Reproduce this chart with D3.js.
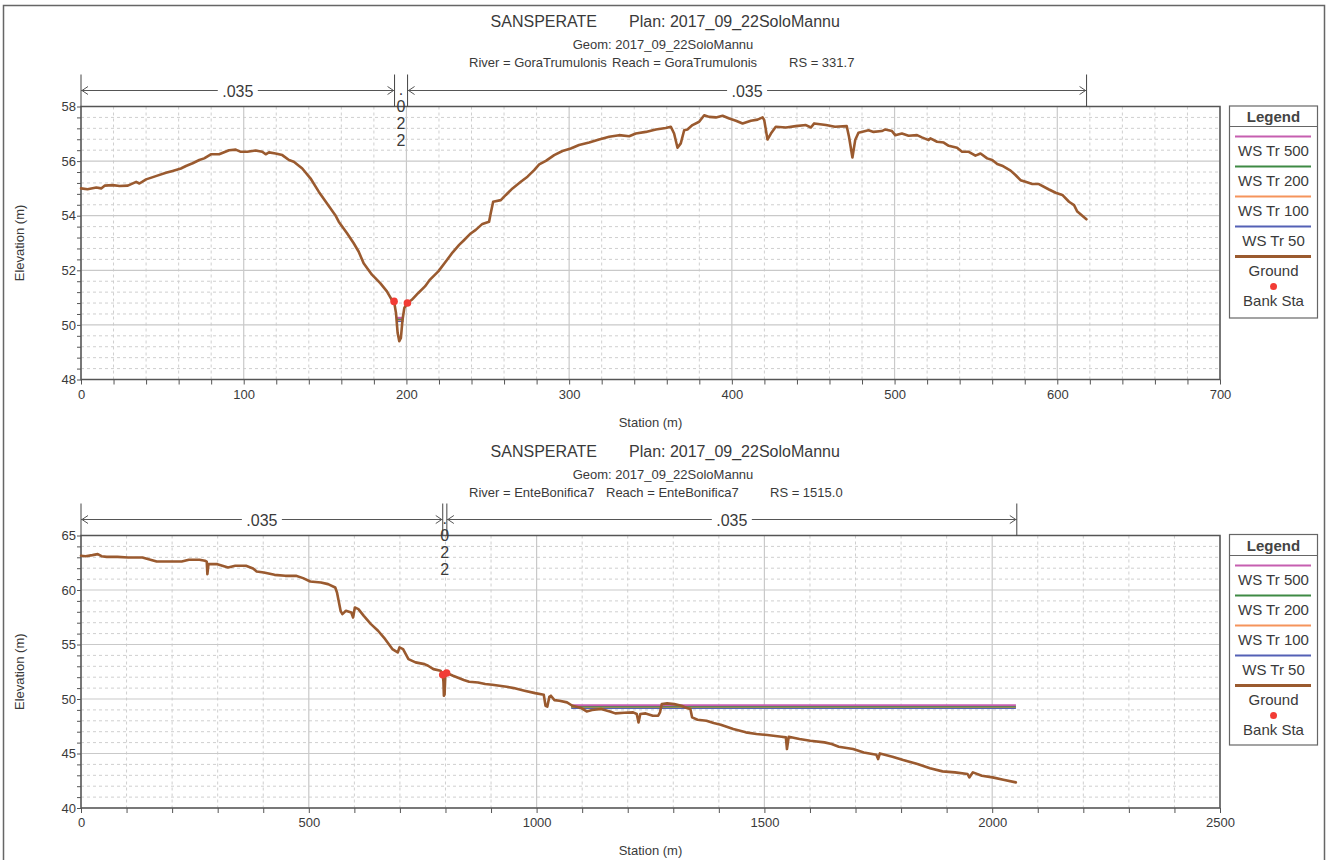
<!DOCTYPE html>
<html><head><meta charset="utf-8">
<script src="https://cdn.jsdelivr.net/npm/d3@7"></script>
<style>
html,body{margin:0;padding:0;background:#fff;}
svg{display:block;font-family:"Liberation Sans",Arial,sans-serif;}
</style></head>
<body><svg id="c" width="1330" height="860"></svg>
<script>
// ---------------- DATA ----------------
const projectName = "SANSPERATE";
const planName = "Plan: 2017_09_22SoloMannu";
const geomName = "Geom: 2017_09_22SoloMannu";

// Panel 1 : GoraTrumulonis RS 331.7
const topRiverText = ["River = GoraTrumulonis", "Reach = GoraTrumulonis", "RS = 331.7"];
const topStation = [0,4,9.4,12.4,14.5,19.6,23.7,28.8,33.9,35.9,40,46,52.2,56.3,61.4,64.5,68.6,72.7,75.7,79.8,84.9,91,95.1,98.2,102.2,107.3,111.4,113.5,115.5,119.6,123.7,127.8,130.8,136,141,146.1,151.2,156.3,158.4,163.5,167.6,170.6,173.7,178.8,183.9,188,191,192.4,193.6,194.6,195.6,196.6,197.6,198.7,200.6,203.3,207.3,211.4,214.5,219.6,224.2,228.3,232.4,235.5,239.5,242.6,246.7,250.8,251.8,253.3,258,261.1,265.2,270.3,274.4,278.5,281.6,285.7,290.8,295.9,301,306.1,312.3,318.4,324.6,330.7,336.9,341,347.1,353.3,359.4,362.5,364.5,366.6,368.6,370.7,372.7,375.8,379.9,383,386.1,390.2,394.3,398.4,402.5,406.6,411.7,415.8,418.9,419.9,421.9,424,427,433.2,439.3,445.5,448.6,450.6,457.8,463.4,470.6,472,474.1,475.8,477.8,484,487.1,492.2,494.3,498.4,500.4,504.5,508.6,513.8,516.8,520.9,522,526.1,530.2,533.3,538.4,541.5,545.6,549.7,552.8,556.9,560,563.1,566.1,571.3,574.3,577.4,580.5,584.6,588.7,594.9,599,603.1,607.2,610.3,612.3,617.9];
const topElev = [55.0,54.97,55.03,55.0,55.1,55.12,55.09,55.1,55.24,55.18,55.33,55.45,55.57,55.64,55.73,55.82,55.92,56.04,56.1,56.25,56.25,56.4,56.42,56.34,56.34,56.39,56.34,56.25,56.32,56.28,56.22,56.04,55.98,55.73,55.37,54.88,54.45,54.02,53.78,53.36,52.99,52.69,52.26,51.84,51.53,51.23,50.92,50.86,50.43,49.7,49.4,49.52,50.19,50.62,50.8,50.92,51.17,51.41,51.66,51.96,52.32,52.65,52.93,53.11,53.35,53.48,53.7,53.78,54.09,54.51,54.57,54.76,55.0,55.24,55.43,55.67,55.88,56.01,56.22,56.37,56.46,56.59,56.68,56.79,56.89,56.95,56.91,57.01,57.07,57.16,57.21,57.26,57.01,56.49,56.65,57.13,57.16,57.32,57.44,57.68,57.62,57.6,57.66,57.56,57.48,57.38,57.48,57.52,57.6,57.5,56.79,57.01,57.26,57.23,57.28,57.32,57.23,57.38,57.32,57.26,57.28,56.89,56.13,56.77,57.04,57.13,57.07,57.1,57.16,57.1,56.95,57.01,56.93,56.95,56.87,56.77,56.83,56.71,56.68,56.56,56.49,56.34,56.34,56.2,56.28,56.1,56.04,55.89,55.83,55.65,55.49,55.3,55.24,55.16,55.16,54.96,54.84,54.76,54.51,54.39,54.15,53.87];
const topBankStation = [192.4, 200.6];
const topBankElev = [50.86, 50.8];
const topWSStation = [194.1, 198.2];
const topWS500 = 50.26, topWS200 = 50.22, topWS100 = 50.19, topWS50 = 50.14;
const topNStations = [0, 192.7, 200.7, 618];
const topNValues = [".035", ".022", ".035"];

// Panel 2 : EnteBonifica7 RS 1515.0
const botRiverText = ["River = EnteBonifica7", "Reach = EnteBonifica7", "RS = 1515.0"];
const botStation = [0,10,25,36.8,45,56.4,80,103.4,134.8,142.6,166.1,189.7,221,236.7,260.2,272,276,277.4,279.8,299.4,322.9,338.6,362.1,377.7,385.6,401.3,424.8,448.3,471.8,487.5,503.1,526.6,542.3,558,561.9,569.8,573.7,581.5,593.3,597.2,601.1,608.9,620.7,636.4,652,667.7,683.4,695.1,699.1,706.9,718.7,734.3,753.9,761.8,773.5,789.2,794,795.5,796.5,798,799.5,802.5,816.6,840.1,852,871.5,887.2,902.8,918.5,934.2,949.8,973.4,996.9,1015.7,1019.6,1023.5,1028,1031.4,1039.2,1050,1066.7,1078.5,1098.1,1109.9,1121.7,1141.3,1160.9,1172.7,1192.3,1211.9,1219.8,1223.7,1227.6,1239.4,1255.1,1266.9,1270.8,1274.8,1286.5,1302.2,1317.9,1329.7,1337.5,1341.4,1353.2,1372.8,1388.5,1404.2,1431.7,1459.2,1482.7,1506.3,1537.7,1547.1,1549.5,1553.4,1577,1600.5,1631.9,1647.6,1663.3,1694.7,1718.2,1745.7,1749.6,1753.5,1781,1804.6,1836,1863.5,1890.9,1918.4,1945.9,1949.8,1957.7,1977.3,2000.8,2024.4,2051.9];
const botElev = [63.14,63.1,63.2,63.29,63.1,63.04,63.04,62.98,62.98,62.89,62.62,62.62,62.62,62.77,62.77,62.68,62.6,61.45,62.37,62.37,62.07,62.22,62.22,61.97,61.7,61.61,61.39,61.3,61.3,61.09,60.78,60.69,60.54,60.23,59.77,58.09,57.79,58.09,57.94,57.48,58.4,58.25,57.63,56.87,56.26,55.49,54.58,54.27,54.73,54.58,53.66,53.36,53.2,53.05,52.74,52.59,52.25,51.6,50.3,50.4,52.0,52.4,52.13,51.74,51.58,51.52,51.37,51.31,51.22,51.12,51.0,50.76,50.54,50.39,49.38,49.3,50.2,50.3,49.9,49.84,49.69,49.38,49.17,48.86,48.99,49.08,48.86,48.68,48.74,48.77,48.62,47.85,48.62,48.68,48.47,48.47,48.77,49.53,49.6,49.53,49.38,49.17,49.08,48.31,48.1,48.0,47.79,47.64,47.24,46.94,46.79,46.69,46.54,46.48,45.41,46.54,46.33,46.17,46.02,45.87,45.62,45.41,45.1,44.89,44.49,45.01,44.71,44.4,44.03,43.64,43.36,43.27,43.12,42.81,43.27,42.96,42.81,42.6,42.35];
const botBankStation = [794, 802.5];
const botBankElev = [52.22, 52.38];
const botWSStation = [1076, 2052];
const botWS500 = 49.42, botWS200 = 49.32, botWS100 = 49.27, botWS50 = 49.17;
const botNStations = [0, 794, 803, 2054];
const botNValues = [".035", ".022", ".035"];

const legendLabels = ["WS Tr 500", "WS Tr 200", "WS Tr 100", "WS Tr 50", "Ground", "Bank Sta"];
const seriesColors = {"WS Tr 500":"#c65fb0","WS Tr 200":"#3f8a45","WS Tr 100":"#f5945c","WS Tr 50":"#5461b5","Ground":"#9a5a2f","Bank Sta":"#f23c35"};

// ---------------- DRAW ----------------
const svg = d3.select("#c");
svg.append("rect").attr("x",0).attr("y",0).attr("width",1330).attr("height",860).attr("fill","#fff");
svg.append("path").attr("d","M3.5,870 V5.5 H1324.5 V870").attr("fill","none").attr("stroke","#666").attr("stroke-width",1.5);

const TXT = "#3a3a3a";

function panel(cfg){
  const g = svg.append("g");
  const x = d3.scaleLinear().domain(cfg.xDomain).range([cfg.x0, cfg.x1]);
  const y = d3.scaleLinear().domain(cfg.yDomain).range([cfg.yBot, cfg.yTop]);

  // titles
  g.append("text").attr("x",597).attr("y",cfg.titleY).attr("text-anchor","end")
    .attr("font-size",16).attr("fill",TXT).text(projectName);
  g.append("text").attr("x",629).attr("y",cfg.titleY).attr("text-anchor","start")
    .attr("font-size",16).attr("fill",TXT).text(planName);
  g.append("text").attr("x",663).attr("y",cfg.titleY+22).attr("text-anchor","middle")
    .attr("font-size",13).attr("fill",TXT).text(geomName);
  cfg.riverText.forEach((t,i)=>{
    g.append("text").attr("x",cfg.riverX[i]).attr("y",cfg.titleY+40)
      .attr("font-size",13).attr("fill",TXT).text(t);
  });

  // grid
  const xMinorVals = d3.range(cfg.xDomain[0], cfg.xDomain[1]+1e-9, cfg.xMinor);
  const yMinorVals = d3.range(cfg.yDomain[0], cfg.yDomain[1]+1e-9, cfg.yMinor).map(v=>+v.toFixed(3));
  const isMajX = v => Math.abs(v/cfg.xMajor - Math.round(v/cfg.xMajor))<1e-6;
  const isMajY = v => Math.abs(v/cfg.yMajor - Math.round(v/cfg.yMajor))<1e-6;
  g.append("g").selectAll("line").data(xMinorVals.filter(v=>!isMajX(v))).join("line")
    .attr("x1",d=>x(d)).attr("x2",d=>x(d)).attr("y1",cfg.yTop).attr("y2",cfg.yBot)
    .attr("stroke","#cfcfcf").attr("stroke-dasharray","3,3").attr("stroke-width",1);
  g.append("g").selectAll("line").data(yMinorVals.filter(v=>!isMajY(v))).join("line")
    .attr("x1",cfg.x0).attr("x2",cfg.x1).attr("y1",d=>y(d)).attr("y2",d=>y(d))
    .attr("stroke","#cfcfcf").attr("stroke-dasharray","3,3").attr("stroke-width",1);
  g.append("g").selectAll("line").data(xMinorVals.filter(isMajX)).join("line")
    .attr("x1",d=>x(d)).attr("x2",d=>x(d)).attr("y1",cfg.yTop).attr("y2",cfg.yBot)
    .attr("stroke","#c9c9c9").attr("stroke-width",1.2);
  g.append("g").selectAll("line").data(yMinorVals.filter(isMajY)).join("line")
    .attr("x1",cfg.x0).attr("x2",cfg.x1).attr("y1",d=>y(d)).attr("y2",d=>y(d))
    .attr("stroke","#c9c9c9").attr("stroke-width",1.2);

  // axes
  const yAx = g.append("g").attr("transform",`translate(${cfg.x0},0)`)
    .call(d3.axisLeft(y).tickValues(yMinorVals).tickSize(4)
      .tickFormat(d=>isMajY(d)?d3.format("d")(d):""));
  const xAx = g.append("g").attr("transform",`translate(0,${cfg.yBot})`)
    .call(d3.axisBottom(x).tickValues(xMinorVals).tickSize(5)
      .tickFormat(d=>isMajX(d)?d3.format("d")(d):""));
  [yAx,xAx].forEach(a=>{
    a.select(".domain").remove();
    a.selectAll(".tick line").attr("stroke","#555");
    a.selectAll("text").attr("fill",TXT).attr("font-size",13).attr("font-family","Liberation Sans, Arial, sans-serif");
  });
  yAx.selectAll("text").attr("x",-5);
  xAx.selectAll("text").attr("y",10);
  g.append("rect").attr("x",cfg.x0).attr("y",cfg.yTop).attr("width",cfg.x1-cfg.x0).attr("height",cfg.yBot-cfg.yTop)
    .attr("fill","none").attr("stroke","#555").attr("stroke-width",1.5);

  // axis labels
  g.append("text").attr("transform",`translate(24,${(cfg.yTop+cfg.yBot)/2}) rotate(-90)`)
    .attr("text-anchor","middle").attr("font-size",13).attr("fill",TXT).text("Elevation (m)");
  g.append("text").attr("x",(cfg.x0+cfg.x1)/2).attr("y",cfg.yBot+47).attr("text-anchor","middle")
    .attr("font-size",13).attr("fill",TXT).text("Station (m)");

  // Manning n bars
  const ns = cfg.nStations.map(s=>x(s));
  const ay = cfg.yTop-16;
  ns.forEach(px=>{
    g.append("line").attr("x1",px).attr("x2",px).attr("y1",cfg.yTop-32).attr("y2",cfg.yTop)
      .attr("stroke","#444").attr("stroke-width",1);
  });
  const arrow = (xa,xb)=>{
    g.append("line").attr("x1",xa).attr("x2",xb).attr("y1",ay).attr("y2",ay).attr("stroke","#555").attr("stroke-width",1);
    g.append("path").attr("d",`M${xa+7},${ay-4} L${xa+1},${ay} L${xa+7},${ay+4}`).attr("fill","none").attr("stroke","#555");
    g.append("path").attr("d",`M${xb-7},${ay-4} L${xb-1},${ay} L${xb-7},${ay+4}`).attr("fill","none").attr("stroke","#555");
  };
  [[0,1],[2,3]].forEach(([a,b],k)=>{
    const xa=ns[a], xb=ns[b];
    arrow(xa,xb);
    const lbl = k===0?cfg.nValues[0]:cfg.nValues[2];
    const cx = (xa+xb)/2;
    g.append("rect").attr("x",cx-20).attr("y",ay-9).attr("width",40).attr("height",18).attr("fill","#fff");
    g.append("text").attr("x",cx).attr("y",ay+6).attr("text-anchor","middle").attr("font-size",16)
      .attr("fill",TXT).text(lbl);
  });
  const mid = (ns[1]+ns[2])/2;
  cfg.nValues[1].split("").forEach((ch,i)=>{
    g.append("text").attr("x",mid).attr("y",cfg.yTop-11.5+17*i).attr("text-anchor","middle")
      .attr("font-size",16).attr("fill",TXT).text(ch);
  });

  // water surfaces
  const wsList = [["WS Tr 50",cfg.ws[3]],["WS Tr 100",cfg.ws[2]],["WS Tr 200",cfg.ws[1]],["WS Tr 500",cfg.ws[0]]];
  wsList.forEach(([nm,v])=>{
    g.append("line").attr("x1",x(cfg.wsStation[0])).attr("x2",x(cfg.wsStation[1]))
      .attr("y1",y(v)).attr("y2",y(v)).attr("stroke",seriesColors[nm]).attr("stroke-width",2);
  });

  // ground
  const pts = cfg.station.map((s,i)=>[s,cfg.elev[i]]);
  g.append("path").datum(pts).attr("fill","none").attr("stroke",seriesColors["Ground"])
    .attr("stroke-width",2.6).attr("stroke-linejoin","round").attr("stroke-linecap","round")
    .attr("d",d3.line().x(d=>x(d[0])).y(d=>y(d[1])));

  // bank stations
  g.append("g").selectAll("circle").data(cfg.bankStation.map((s,i)=>[s,cfg.bankElev[i]])).join("circle")
    .attr("cx",d=>x(d[0])).attr("cy",d=>y(d[1])).attr("r",3.8).attr("fill",seriesColors["Bank Sta"]);

  // legend
  const L = cfg.legend;
  const lg = g.append("g");
  lg.append("rect").attr("x",1229.5).attr("y",L.top).attr("width",88).attr("height",L.bottom-L.top)
    .attr("fill","#fff").attr("stroke","#666").attr("stroke-width",1.2);
  lg.append("line").attr("x1",1229.5).attr("x2",1317.5).attr("y1",L.top+L.head).attr("y2",L.top+L.head)
    .attr("stroke","#666").attr("stroke-width",1.2);
  lg.append("text").attr("x",1273.5).attr("y",L.top+L.head/2+5.5).attr("text-anchor","middle")
    .attr("font-size",15).attr("font-weight","bold").attr("fill","#444").text("Legend");
  legendLabels.forEach((nm,i)=>{
    const ly = L.top+L.head+10+30*i;
    if(nm==="Bank Sta"){
      lg.append("circle").attr("cx",1273.5).attr("cy",ly).attr("r",3.5).attr("fill",seriesColors[nm]);
    } else {
      lg.append("line").attr("x1",1235).attr("x2",1311).attr("y1",ly).attr("y2",ly)
        .attr("stroke",seriesColors[nm]).attr("stroke-width",nm==="Ground"?3:2);
    }
    lg.append("text").attr("x",1273.5).attr("y",ly+19).attr("text-anchor","middle")
      .attr("font-size",15).attr("fill",TXT).text(nm);
  });
}

panel({x0:81,x1:1220,yTop:106.5,yBot:379.5,xDomain:[0,700],yDomain:[48,58],xMajor:100,xMinor:20,yMajor:2,yMinor:0.4,
  titleY:27,riverText:topRiverText,riverX:[469,612,789],
  station:topStation,elev:topElev,bankStation:topBankStation,bankElev:topBankElev,
  wsStation:topWSStation,ws:[topWS500,topWS200,topWS100,topWS50],
  nStations:topNStations,nValues:topNValues,legend:{top:106,head:20.5,bottom:318}});

panel({x0:81,x1:1220,yTop:535.5,yBot:808,xDomain:[0,2500],yDomain:[40,65],xMajor:500,xMinor:100,yMajor:5,yMinor:1,
  titleY:457,riverText:botRiverText,riverX:[469,606,770],
  station:botStation,elev:botElev,bankStation:botBankStation,bankElev:botBankElev,
  wsStation:botWSStation,ws:[botWS500,botWS200,botWS100,botWS50],
  nStations:botNStations,nValues:botNValues,legend:{top:534.5,head:21,bottom:745}});
</script></body></html>
